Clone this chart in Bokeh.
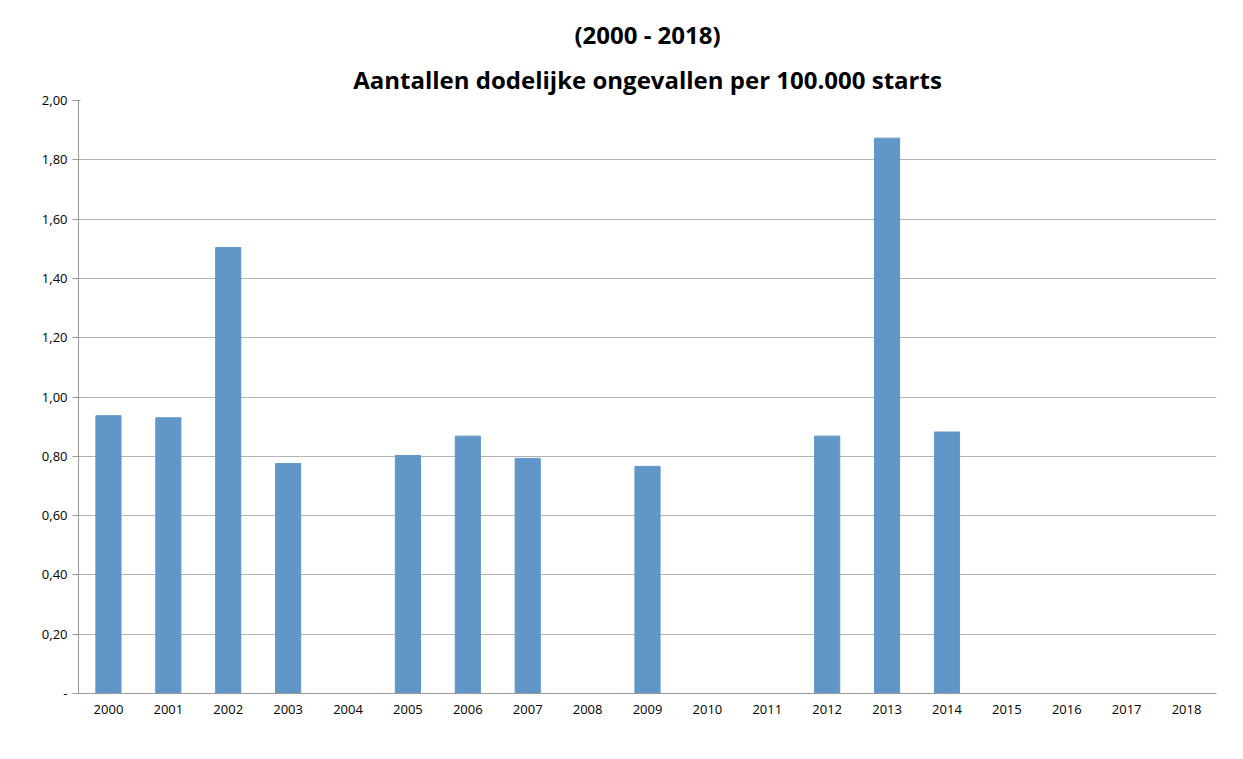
from bokeh.plotting import figure
from bokeh.models import FixedTicker, Range1d, Title
from bokeh.embed import file_html
from bokeh.resources import INLINE

years = [str(y) for y in range(2000, 2019)]
values = [0.937, 0.930, 1.504, 0.776, 0, 0.803, 0.868, 0.793, 0, 0.766,
          0, 0, 0.868, 1.873, 0.882, 0, 0, 0, 0]
yticks = [0, 0.2, 0.4, 0.6, 0.8, 1.0, 1.2, 1.4, 1.6, 1.8, 2.0]
ylabels = ["-", "0,20", "0,40", "0,60", "0,80", "1,00", "1,20", "1,40", "1,60", "1,80", "2,00"]

p = figure(x_range=years, y_range=Range1d(0, 2.0), width=1227, height=743,
           output_backend="svg", toolbar_location=None, title="(2000 - 2018)")
p.vbar(x=years, top=values, width=0.42, color="#6197c8")
for t in (p.title,):
    t.align = "center"
    t.text_font = "Open Sans"
    t.text_font_style = "bold"
    t.text_font_size = "24px"
    t.text_color = "black"
p.add_layout(Title(text="Aantallen dodelijke ongevallen per 100.000 starts", align="center",
                   text_font="Open Sans", text_font_style="bold", text_font_size="24px",
                   text_color="black"), "above")
p.yaxis.ticker = FixedTicker(ticks=yticks)
p.yaxis.major_label_overrides = {t: l for t, l in zip(yticks, ylabels)}
p.ygrid.grid_line_color = "#b3b3b3"
p.xgrid.grid_line_color = None
p.yaxis.axis_line_color = "#999999"
p.xaxis.axis_line_color = "#999999"
p.yaxis.major_tick_line_color = "#999999"
p.xaxis.major_tick_line_color = None
p.yaxis.minor_tick_line_color = None
for ax in (p.xaxis[0], p.yaxis[0]):
    ax.major_label_text_font = "Open Sans"
    ax.major_label_text_font_size = "13px"
    ax.major_label_text_color = "black"
p.outline_line_color = None
p.min_border_left = 78
p.min_border_right = 11
p.min_border_top = 100
p.min_border_bottom = 50

open("out.html", "w").write(file_html(p, INLINE))
